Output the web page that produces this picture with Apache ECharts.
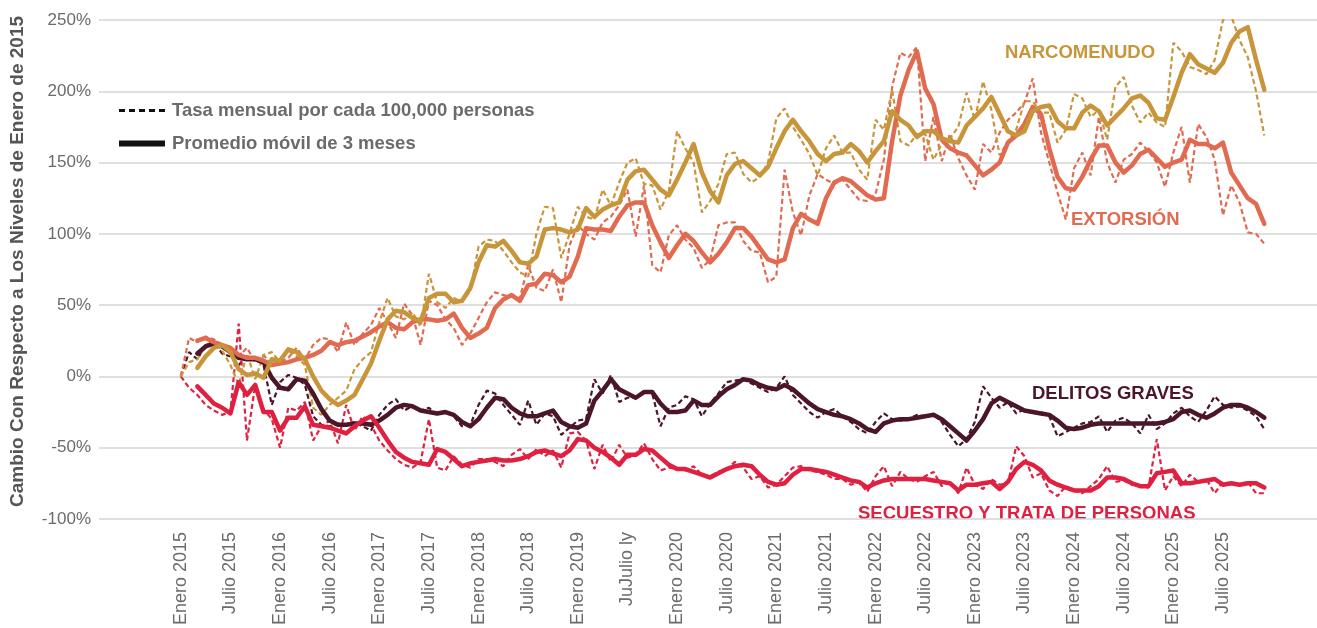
<!DOCTYPE html>
<html>
<head>
<meta charset="utf-8">
<title>Cambio con respecto a enero de 2015</title>
<script src="https://cdn.jsdelivr.net/npm/echarts@6/dist/echarts.min.js"></script>
<style>
  html, body { margin: 0; padding: 0; background: #fff; }
  #chart { width: 1317px; height: 628px; }
</style>
</head>
<body>
<div id="chart"></div>
<script>
// meses: 0 = enero 2015 ... 131 = diciembre 2025
var tickLabels = [
  'Enero 2015', 'Julio 2015', 'Enero 2016', 'Julio 2016', 'Enero 2017', 'Julio 2017',
  'Enero 2018', 'Julio 2018', 'Enero 2019', 'JuJulio ly', 'Enero 2020', 'Julio 2020',
  'Enero 2021', 'Julio 2021', 'Enero 2022', 'Julio 2022', 'Enero 2023', 'Julio 2023',
  'Enero 2024', 'Julio 2024', 'Enero 2025', 'Julio 2025'
];
var tickMonths = [0, 6, 12, 18, 24, 30, 36, 42, 48, 54, 60, 66, 72, 78, 84, 90, 96, 102, 108, 114, 120, 126];

// tasa mensual
var narcoMensual = [
  0, 10, 12, 22, 25, 18, 8, -6, 16, -2, 15, 17,
  10, 18, 14, 8, -22, -27, -20, -15, -10, 5, 12, 17,
  38, 55, 42, 40, 45, 35, 72, 52, 48, 55, 52, 60,
  91, 96, 95, 88, 80, 73, 70, 100, 119, 118, 83, 100,
  119, 112, 110, 131, 120, 136, 150, 153, 135, 134, 117, 130,
  172, 160, 150, 115, 123, 135, 156, 157, 142, 136, 140, 150,
  181, 188, 175, 166, 156, 141, 160, 169, 157, 157, 145, 138,
  180, 173, 201, 165, 162, 170, 170, 152, 163, 167, 175, 199,
  180, 207, 187, 155, 165, 173, 193, 193, 185, 185, 164, 173,
  198, 195, 182, 187, 166, 203, 210, 190, 178, 185, 178, 175,
  234, 228, 217, 215, 212, 222, 250, 253, 236, 224, 200, 169
];
var extorsionMensual = [
  0, 27, 24, 28, 26, 22, 17, 14, 20, 10, 15, 8,
  10, 13, 20, 12, 22, 27, 26, 17, 38, 22, 30, 36,
  48, 38, 27, 51, 43, 22, 53, 50, 40, 34, 22, 30,
  41, 52, 59, 57, 56, 55, 78, 62, 60, 75, 52, 92,
  106, 100, 96, 108, 112, 120, 131, 98, 134, 78, 73, 99,
  106, 96, 90, 76, 82, 106, 108, 108, 95, 88, 87, 66,
  70, 145, 115, 99, 127, 142, 138, 135, 138, 131, 124, 123,
  128, 152, 203, 227, 224, 231, 151, 182, 151, 170, 153, 141,
  131, 163, 157, 171, 180, 185, 192, 209, 171, 150, 129, 110,
  146, 157, 141, 182, 150, 136, 152, 156, 164, 158, 150, 133,
  157, 175, 136, 177, 168, 152, 113, 134, 122, 101, 100, 93
];
var delitosMensual = [
  0, 17, 12, 22, 24, 16, 14, 8, 14, 12, 8, -20,
  -4, 1, -1, -6, -28, -34, -35, -33, -34, -32, -35, -38,
  -27, -20, -16, -24, -21, -24, -22, -27, -25, -28, -35, -34,
  -20, -10, -12, -20, -27, -34, -17, -34, -26, -28, -41, -36,
  -31, -30, -2, -12, 1, -18, -15, -15, -10, -12, -35, -22,
  -20, -14, -16, -28, -19, -12, -4, -3, -2, -5, -8, -11,
  -8, 0, -13, -19, -25, -29, -25, -23, -28, -32, -37, -40,
  -32, -26, -30, -31, -30, -27, -28, -26, -32, -41, -49, -44,
  -32, -7, -15, -22, -18, -26, -23, -26, -25, -28, -42, -39,
  -36, -33, -32, -28, -39, -31, -29, -33, -40, -27, -37, -33,
  -26, -22, -28, -32, -24, -14, -20, -22, -21, -24, -28, -37
];
var secuestroMensual = [
  0, -8, -13, -20, -24, -27, -25, 37, -45, -6, -23, -30,
  -50, -22, -24, -18, -45, -35, -31, -47, -20, -38, -28, -34,
  -45, -52, -58, -62, -64, -60, -30, -64, -66, -56, -62, -64,
  -58, -58, -60, -63, -55, -51, -58, -51, -56, -52, -64, -40,
  -39, -45, -65, -48, -60, -48, -57, -55, -47, -58, -66, -64,
  -65, -66, -63, -69, -70, -67, -65, -60, -64, -72, -70, -78,
  -76, -70, -64, -63, -66, -67, -69, -72, -72, -76, -74, -81,
  -70, -63, -77, -67, -72, -74, -70, -67, -77, -74, -82, -64,
  -76, -79, -72, -76, -75, -49, -56, -71, -68, -80, -84, -77,
  -80, -82, -77, -72, -63, -74, -73, -76, -77, -78, -44, -80,
  -70, -77, -69, -74, -72, -82, -74, -76, -76, -74, -82, -82
];

// promedio movil de 3 meses
var narcoPromedio = [
  null, null, 6, 14, 20, 22, 17, 5, 1, 2, -1, 12,
  11, 19, 17, 12, 0, -10, -16, -20, -17, -13, -2, 9,
  25, 40, 46, 45, 41, 39, 55, 58, 58, 52, 53, 62,
  80, 92, 91, 95, 88, 80, 79, 84, 103, 104, 103, 101,
  103, 118, 112, 117, 120, 122, 138, 144, 145, 138, 131, 127,
  138, 150, 163, 143, 130, 122, 141, 149, 151, 146, 141, 147,
  160, 172, 180, 172, 165, 156, 151, 156, 157, 163, 158, 150,
  158, 165, 186, 180, 176, 168, 172, 172, 167, 165, 164, 176,
  182, 188, 196, 184, 172, 169, 172, 186, 189, 190, 179, 174,
  174, 185, 190, 186, 176, 182, 188, 195, 197, 192, 181, 180,
  196, 213, 226, 219, 216, 213, 220, 234, 242, 245, 222, 201
];
var extorsionPromedio = [
  null, null, 25, 27, 24, 22, 20, 15, 13, 13, 11, 8,
  9, 10, 12, 13, 15, 18, 24, 22, 24, 25, 28, 31,
  35, 38, 34, 33, 38, 40, 40, 39, 40, 44, 34, 27,
  30, 34, 48, 54, 57, 53, 64, 65, 72, 71, 66, 70,
  84, 104, 103, 103, 102, 112, 120, 122, 122, 106, 94, 83,
  92, 100, 95, 87, 80, 86, 94, 104, 104, 98, 90, 82,
  80, 82, 104, 114, 110, 107, 125, 136, 139, 137, 132, 127,
  124, 125, 165, 197, 215, 228, 202, 191, 166, 160, 157, 155,
  148, 141, 145, 150, 164, 169, 177, 189, 184, 160, 140, 132,
  131, 140, 152, 162, 162, 150, 143, 148, 156, 159, 153, 147,
  150, 152, 166, 163, 163, 160, 164, 143, 134, 125, 121, 107
];
var delitosPromedio = [
  null, null, 16, 21, 23, 21, 17, 13, 12, 12, 10, -1,
  -8, -9, -2, -3, -12, -23, -31, -34, -34, -33, -33, -34,
  -31, -27, -22, -20, -21, -24, -25, -26, -25, -27, -32, -35,
  -30, -22, -15, -16, -22, -26, -28, -28, -26, -24, -32, -35,
  -36, -33, -17, -10, -2, -9, -12, -15, -11, -11, -19, -25,
  -25, -24, -17, -20, -20, -14, -9, -6, -2, -3, -6, -8,
  -9, -6, -9, -14, -19, -23, -25, -27, -28, -30, -33, -37,
  -39, -33, -31, -30, -30, -29, -28, -27, -30, -35, -40, -45,
  -38, -30, -19, -15, -18, -21, -24, -25, -26, -27, -31, -36,
  -37, -36, -34, -33, -33, -33, -33, -33, -33, -33, -33, -32,
  -30, -25, -24, -27, -29, -26, -22, -20, -20, -22, -25, -29
];
var secuestroPromedio = [
  null, null, -7, -13, -19, -22, -26, -4, -13, -6, -25, -25,
  -38, -29, -29, -21, -34, -35, -36, -38, -40, -35, -31, -28,
  -36, -45, -53, -57, -60, -61, -62, -51, -53, -58, -63, -61,
  -60, -59, -58, -59, -59, -58, -56, -53, -52, -54, -56, -52,
  -44, -45, -50, -53, -57, -62, -55, -55, -51, -52, -57, -62,
  -65, -65, -67, -69, -71, -68, -65, -63, -62, -63, -69, -74,
  -76, -75, -69, -65, -65, -66, -67, -69, -71, -73, -74, -78,
  -75, -73, -72, -72, -72, -72, -72, -73, -74, -75, -80, -76,
  -76, -75, -74, -79, -74, -65, -60, -62, -66, -73, -76, -78,
  -80, -80, -80, -77, -71, -71, -72, -75, -77, -77, -68, -67,
  -66, -75, -75, -74, -73, -72, -76, -75, -76, -75, -75, -78
];

var COLORS = {
  narco: '#C8953A',
  extorsion: '#E06B50',
  delitos: '#4A1628',
  secuestro: '#DF2040'
};
var FONT = '"Liberation Sans", Arial, Helvetica, sans-serif';

function toPoints(values) {
  return values.map(function (v, i) { return [i, v]; });
}

function monthly(name, values, color) {
  return {
    name: name,
    type: 'line',
    data: toPoints(values),
    showSymbol: false,
    symbol: 'none',
    silent: true,
    lineStyle: { color: color, width: 2.2, type: [5, 3] },
    z: 2
  };
}

function average(name, values, color) {
  return {
    name: name,
    type: 'line',
    data: toPoints(values),
    showSymbol: false,
    symbol: 'none',
    silent: true,
    connectNulls: false,
    lineStyle: { color: color, width: 4.5, type: 'solid', cap: 'round', join: 'round' },
    z: 3
  };
}

var chart = echarts.init(document.getElementById('chart'));

chart.setOption({
  animation: false,
  textStyle: { fontFamily: FONT },
  grid: { left: 96, right: 0, top: 20, bottom: 107 },
  legend: {
    orient: 'vertical',
    left: 116,
    top: 101,
    padding: 0,
    itemWidth: 46,
    itemHeight: 14,
    itemGap: 14,
    selectedMode: false,
    itemStyle: { color: 'rgba(0,0,0,0)', borderColor: 'rgba(0,0,0,0)', borderWidth: 0 },
    data: [
      { name: 'Tasa mensual por cada 100,000 personas', lineStyle: { color: '#111', width: 2.8, type: [6, 4] } },
      { name: 'Promedio móvil de 3 meses', lineStyle: { color: '#111', width: 6 } }
    ],
    textStyle: { fontSize: 18.5, fontWeight: 'bold', color: '#6b6b6b', padding: [0, 0, 0, 2] }
  },
  xAxis: {
    type: 'value',
    min: -9.89,
    max: 137.37,
    splitLine: { show: false },
    axisLine: { show: false },
    axisTick: { show: false },
    axisLabel: {
      customValues: tickMonths,
      rotate: 90,
      margin: 13,
      fontSize: 18,
      color: '#6b6b6b',
      formatter: function (value) {
        var idx = tickMonths.indexOf(Math.round(value));
        return idx >= 0 ? tickLabels[idx] : '';
      }
    }
  },
  yAxis: {
    type: 'value',
    min: -100,
    max: 250,
    interval: 50,
    name: 'Cambio Con Respecto a Los Niveles de Enero de 2015',
    nameLocation: 'middle',
    nameGap: 72,
    nameTextStyle: { fontSize: 19, fontWeight: 'bold', color: '#555555', padding: [0, 0, 0, 16] },
    axisLine: { show: false },
    axisTick: { show: false },
    axisLabel: { fontSize: 17, color: '#6b6b6b', margin: 8, formatter: '{value}%' },
    splitLine: { lineStyle: { color: '#d4d4d4', width: 1.5 } }
  },
  graphic: [
    { type: 'text', left: 1005, top: 43, style: { text: 'NARCOMENUDO', fill: COLORS.narco, font: 'bold 18.5px ' + FONT } },
    { type: 'text', left: 1071, top: 210, style: { text: 'EXTORSIÓN', fill: COLORS.extorsion, font: 'bold 18.5px ' + FONT } },
    { type: 'text', left: 1032, top: 384, style: { text: 'DELITOS GRAVES', fill: COLORS.delitos, font: 'bold 18.5px ' + FONT } },
    { type: 'text', left: 858, top: 504, style: { text: 'SECUESTRO Y TRATA DE PERSONAS', fill: COLORS.secuestro, font: 'bold 18.5px ' + FONT } }
  ],
  series: [
    // series vacias solo para la leyenda
    { name: 'Tasa mensual por cada 100,000 personas', type: 'line', data: [], symbol: 'none',
      itemStyle: { color: '#111' }, lineStyle: { color: '#111', width: 2.8, type: [6, 4] } },
    { name: 'Promedio móvil de 3 meses', type: 'line', data: [], symbol: 'none',
      itemStyle: { color: '#111' }, lineStyle: { color: '#111', width: 6 } },

    monthly('Delitos graves mensual', delitosMensual, COLORS.delitos),
    monthly('Secuestro mensual', secuestroMensual, COLORS.secuestro),
    monthly('Extorsión mensual', extorsionMensual, COLORS.extorsion),
    monthly('Narcomenudo mensual', narcoMensual, COLORS.narco),

    average('Delitos graves promedio', delitosPromedio, COLORS.delitos),
    average('Secuestro promedio', secuestroPromedio, COLORS.secuestro),
    average('Extorsión promedio', extorsionPromedio, COLORS.extorsion),
    average('Narcomenudo promedio', narcoPromedio, COLORS.narco)
  ]
});
</script>
</body>
</html>
